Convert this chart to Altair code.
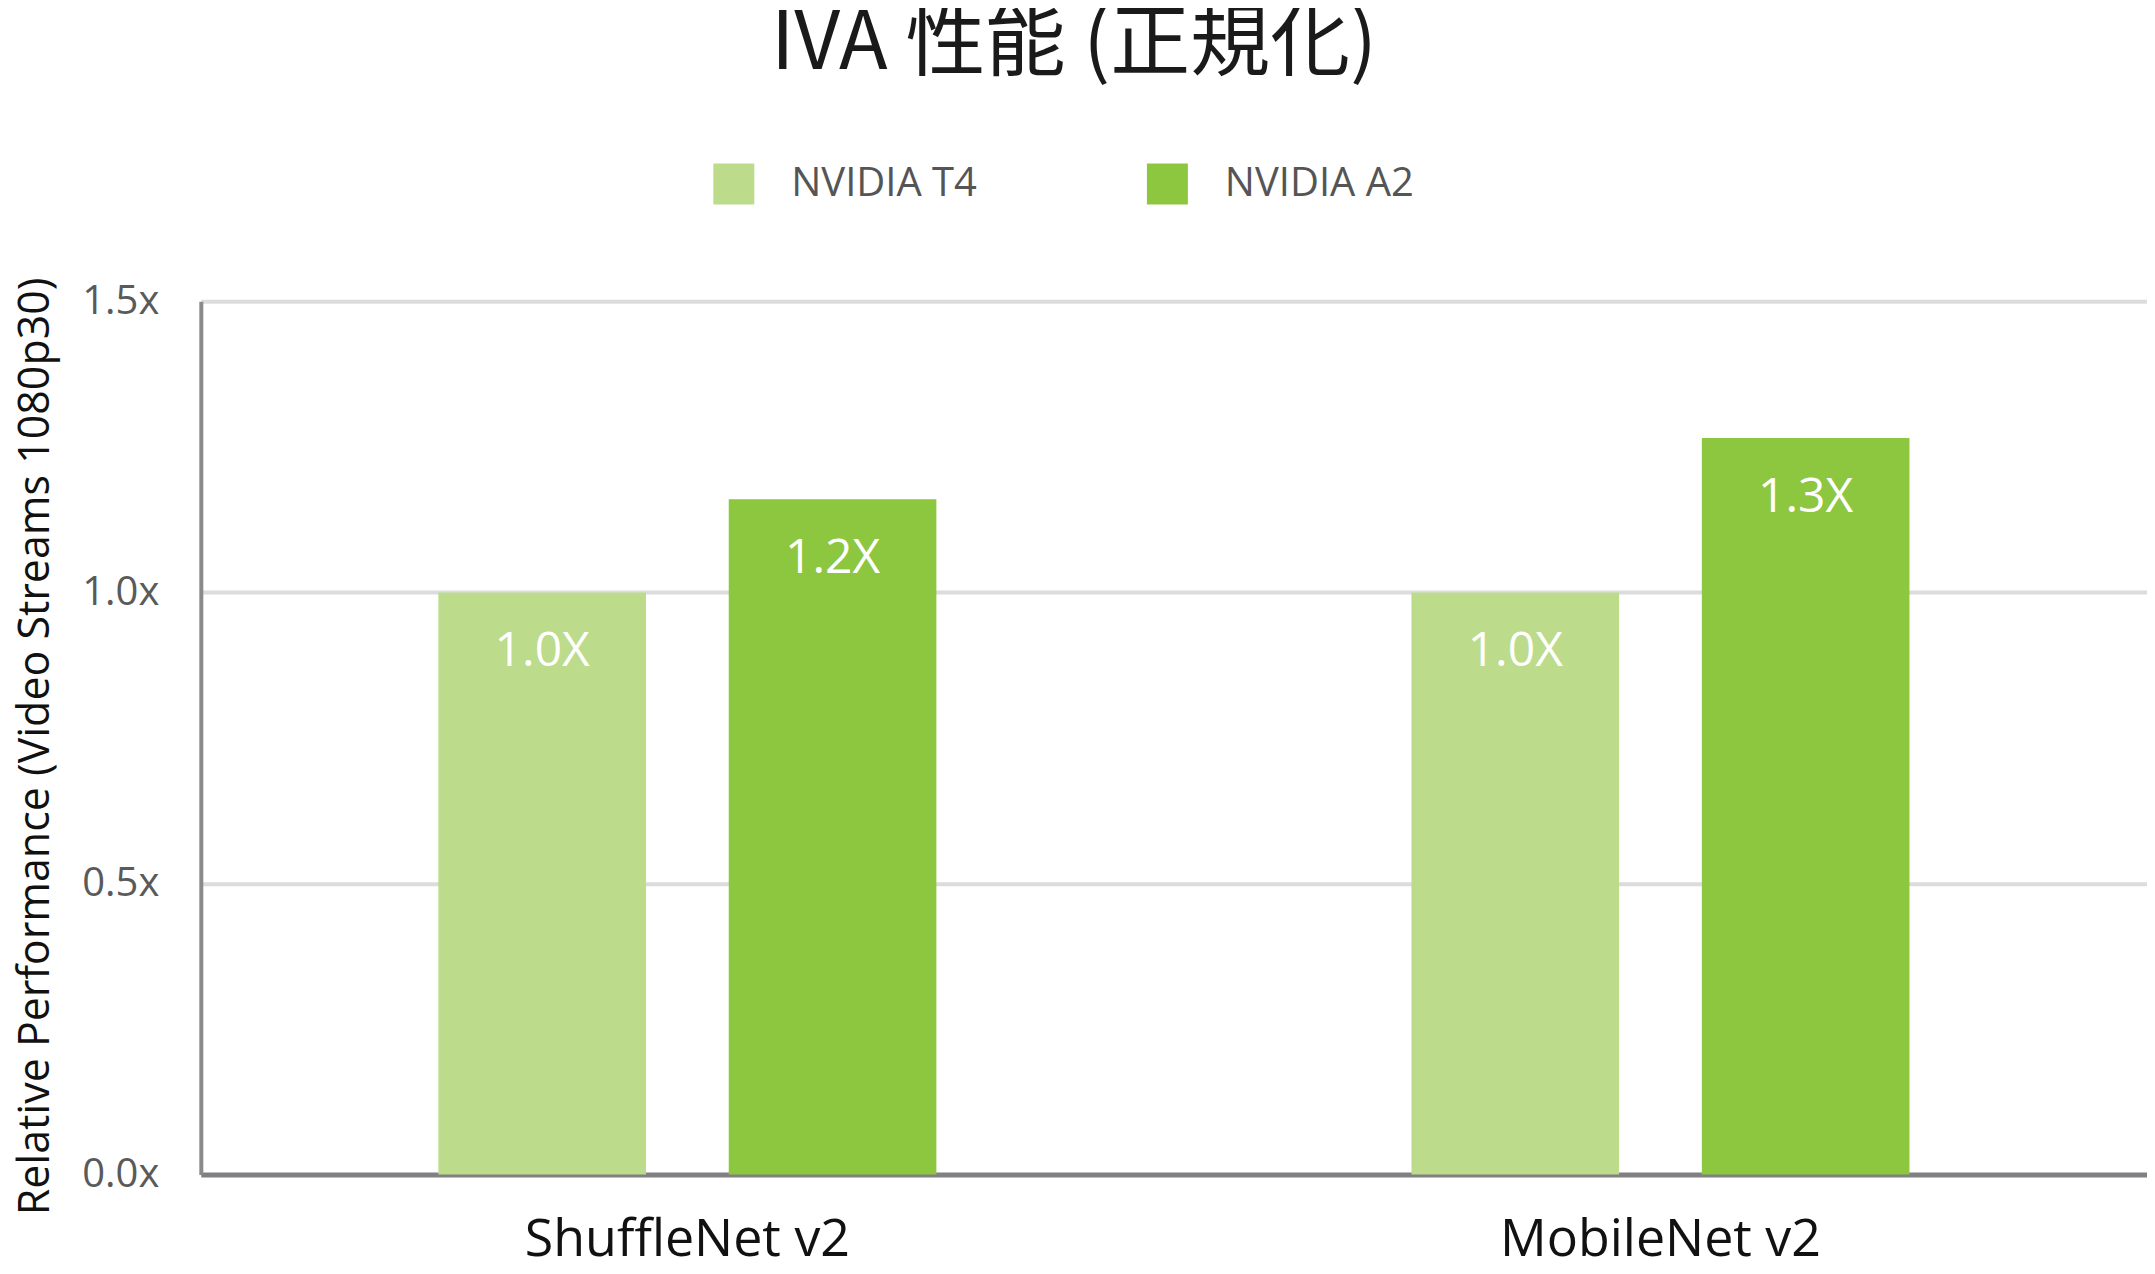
import altair as alt
import pandas as pd

models = ["ShuffleNet v2", "MobileNet v2"]
gpus = ["NVIDIA T4", "NVIDIA A2"]
t4_values = [1.0, 1.0]
a2_values = [1.16, 1.265]
t4_labels = ["1.0X", "1.0X"]
a2_labels = ["1.2X", "1.3X"]
y_ticks = [0, 0.5, 1.0, 1.5]
colors = ["#bcdb8b", "#8dc63f"]

rows = []
for i, m in enumerate(models):
    rows.append({"model": m, "gpu": gpus[0], "value": t4_values[i], "label": t4_labels[i]})
    rows.append({"model": m, "gpu": gpus[1], "value": a2_values[i], "label": a2_labels[i]})
df = pd.DataFrame(rows)

FONT = "Open Sans"

x = alt.X(
    "model:N", sort=models,
    scale=alt.Scale(paddingInner=0, paddingOuter=0),
    axis=alt.Axis(title=None, labelFontSize=52, labelColor="#111111", labelFont=FONT,
                  labelAngle=0, ticks=False, tickSize=0, labelPadding=40, labelLimit=0,
                  domainColor="#808083", domainWidth=5, grid=False, labelBaseline="top"),
)
xo = alt.XOffset("gpu:N", sort=gpus, scale=alt.Scale(paddingInner=0.285, paddingOuter=0.818))
y = alt.Y(
    "value:Q",
    scale=alt.Scale(domain=[0, 1.5], nice=False),
    axis=alt.Axis(values=y_ticks, labelExpr="format(datum.value, '.1f') + 'x'",
                  title="Relative Performance (Video Streams 1080p30)",
                  titleFont=FONT, titleFontSize=43, titleFontWeight="normal", titleColor="#111111",
                  titleX=-143, titleY=445, titleAngle=270, titleBaseline="bottom",
                  labelFont=FONT, labelFontSize=40, labelColor="#5a5a5a", labelPadding=42,
                  ticks=False, tickSize=0, domainColor="#8a8a8d", domainWidth=4,
                  grid=True, gridColor="#dcdcdc", gridWidth=4),
)

bars = alt.Chart(df).mark_bar().encode(
    x=x, xOffset=xo, y=y,
    color=alt.Color("gpu:N", sort=gpus, scale=alt.Scale(domain=gpus, range=colors),
                    legend=alt.Legend(title=None, orient="none", legendX=513, legendY=-138,
                                      direction="horizontal", columns=2,
                                      symbolType="square", symbolSize=1681,
                                      symbolStrokeWidth=0, symbolOpacity=1, labelLimit=0,
                                      labelFontSize=40, labelColor="#555555", labelFont=FONT,
                                      labelOffset=37, columnPadding=170)),
)

text = alt.Chart(df).mark_text(baseline="middle", dy=60, fontSize=48, color="white", font=FONT).encode(
    x=x, xOffset=xo, y=y, text="label:N"
)

chart = alt.layer(bars, text).properties(
    width=1948, height=874,
    autosize="none",
    padding={"left": 193, "top": 293, "right": 0, "bottom": 91},
    title=alt.TitleParams("IVA 性能 (正規化)", fontSize=80, font="Noto Sans CJK JP",
                          fontWeight="normal", color="#1a1a1a", anchor="middle",
                          dx=-100, offset=15, baseline="alphabetic"),
).configure_view(stroke=None)

chart.save("out.html", embed_options={"renderer": "svg", "actions": False})
